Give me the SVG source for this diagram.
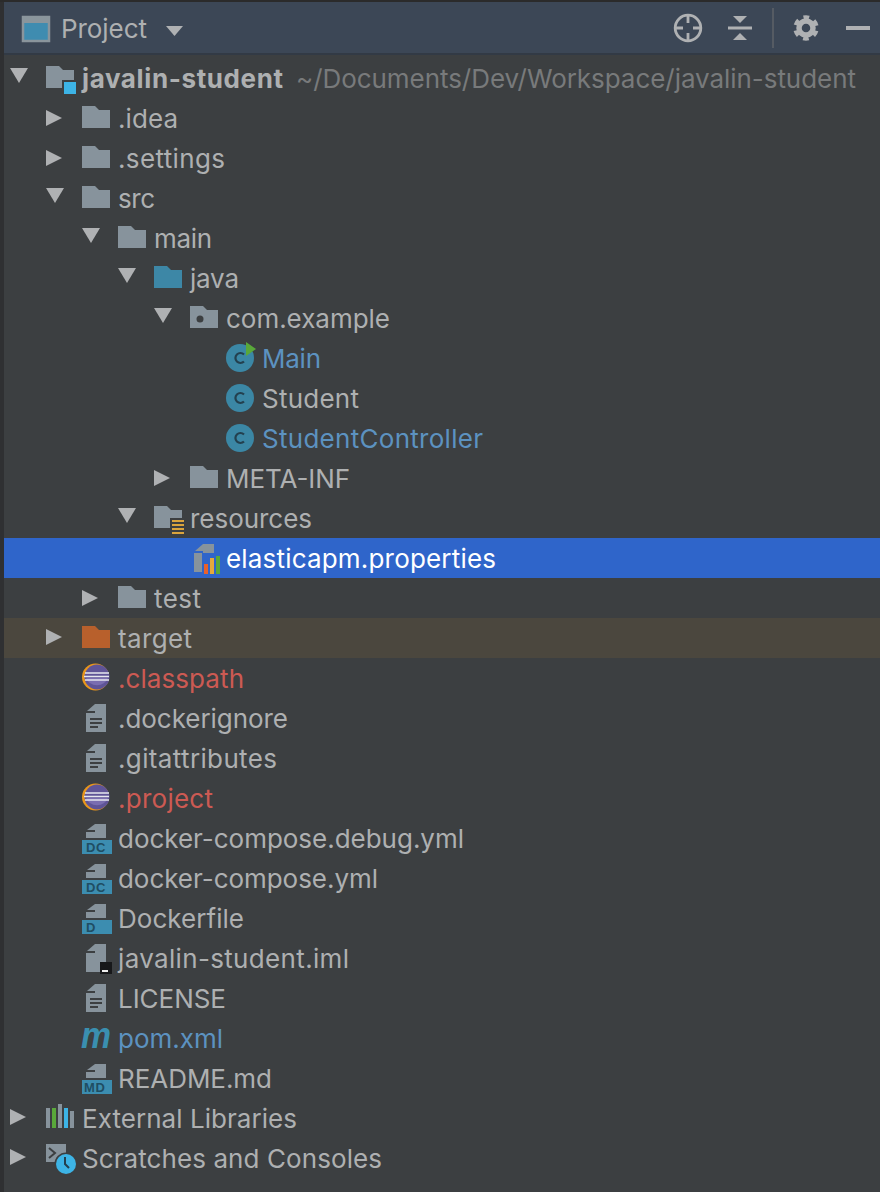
<svg xmlns="http://www.w3.org/2000/svg" xmlns:xlink="http://www.w3.org/1999/xlink" width="880" height="1192" viewBox="0 0 880 1192">
<style>
text{font-family:Inter,"Noto Sans","Liberation Sans",sans-serif;font-size:26px;fill:#aeb0b1}
.blue{fill:#5c92c0}.red{fill:#cc5a53}.white{fill:#fff}.path{fill:#787a7b}.bold{font-weight:700}
.doc{fill:#87939c}.tri{fill:#afb1b3}.band{fill:#3c8db0}
text.tag{font-family:"Liberation Sans",sans-serif;font-size:13px;font-weight:700;fill:#1f4d63;letter-spacing:.6px}
.line{stroke:#3c3f41;stroke-width:2}
.cc{fill:none;stroke:#23404f;stroke-width:2.2}
</style>
<defs>
<path id="folder" d="M0-13h13l4 4h11v18H0z"/>
<polygon id="tr" points="0,-8 16,0 0,8" class="tri"/>
<polygon id="td" points="0,-11 18,-11 9,4" class="tri"/>
<path id="page" class="doc" d="M0-6h9v-9h11v28H0z"/>
<polygon id="fold" class="doc" points="1,-8 9,-15 9,-8"/>
<g id="filedoc"><use xlink:href="#page"/><use xlink:href="#fold"/><path class="line" d="M4 0h12M4 4h12M4 8h8"/></g>
<g id="cls"><circle r="14" fill="#3b87a5"/><path class="cc" d="M4-3.5A5 5 0 1 0 4 3.5"/></g>
<g id="ecl"><circle r="13.5" cx="-.5" fill="#e8961c"/><circle r="12.5" cx="1" fill="#5f5497"/><path d="M-10 1a12 12 0 0 0 22 0z" fill="#7a6db0"/><path d="M-11-4h24M-12-.5h25M-11 3h24" stroke="#e6e6ee" stroke-width="1.6"/></g>
<g id="dockdoc"><path class="doc" d="M4-1V-7H13V-15H24V-1z"/><polygon class="doc" points="5,-9 13,-15 13,-9"/><rect x="0" y="1" width="30" height="14" class="band"/></g>
</defs>

<rect width="880" height="1192" fill="#3c3f41"/>
<rect width="4" height="1192" fill="#2f3032"/>
<rect width="880" height="2" fill="#2b2b2b"/>
<rect x="4" y="2" width="876" height="52" fill="#3c4756"/>
<rect x="4" y="53" width="876" height="2" fill="#323a45"/>
<rect x="4" y="538" width="876" height="40" fill="#2f65ca"/>
<rect x="4" y="618" width="876" height="40" fill="#4b473e"/>

<g id="header">
<rect x="23" y="17" width="26" height="24" fill="#3f8cb0" stroke="#8a959c" stroke-width="2.5"/>
<rect x="23" y="17" width="26" height="6" fill="#8a959c"/>
<text x="61" y="38" textLength="86">Project</text>
<polygon points="166,26 183,26 174.500,36" class="tri"/>
<g id="btn-locate" fill="none" stroke="#afb1b3" stroke-width="2.800"><circle cx="688" cy="28" r="12.800"/><path d="M688 15v8M688 33v8M675 28h8M693 28h8"/></g>
<g id="btn-collapse" fill="#afb1b3"><rect x="728" y="26.500" width="24" height="3"/><polygon points="733,16 747,16 740,23"/><polygon points="733,40 747,40 740,33"/></g>
<rect x="772" y="8" width="2" height="40" fill="#555b63"/>
<g id="btn-gear" fill="none" stroke="#afb1b3"><circle cx="806" cy="28" r="7" stroke-width="5.500"/><circle cx="806" cy="28" r="10.500" stroke-width="4.500" stroke-dasharray="5.500 5.500" transform="rotate(15 806 28)"/></g>
<rect x="846" y="26" width="24" height="4" fill="#afb1b3"/>
</g>

<g id="connectors"></g>

<g id="node-root"><use xlink:href="#td" x="10" y="79"/><path class="doc" d="M46 66h13l4 4h11v18H46z"/><rect x="62" y="80" width="14" height="14" fill="#3c3f41"/><rect x="64" y="82" width="12" height="12" fill="#3db4e6"/><text x="82" y="88" class="bold" textLength="201">javalin-student</text><text x="296" y="88" class="path" textLength="560">~/Documents/Dev/Workspace/javalin-student</text></g>
<g id="node-idea"><use xlink:href="#tr" x="46" y="118"/><use xlink:href="#folder" x="82" y="119" fill="#87939c"/><text x="118" y="128" textLength="60">.idea</text></g>
<g id="node-settings"><use xlink:href="#tr" x="46" y="158"/><use xlink:href="#folder" x="82" y="159" fill="#87939c"/><text x="118" y="168" textLength="107">.settings</text></g>
<g id="node-src"><use xlink:href="#td" x="46" y="199"/><use xlink:href="#folder" x="82" y="199" fill="#87939c"/><text x="118" y="208" textLength="37">src</text></g>
<g id="node-main"><use xlink:href="#td" x="82" y="239"/><use xlink:href="#folder" x="118" y="239" fill="#87939c"/><text x="154" y="248" textLength="58">main</text></g>
<g id="node-java"><use xlink:href="#td" x="118" y="279"/><use xlink:href="#folder" x="154" y="279" fill="#3d87a6"/><text x="190" y="288" textLength="49">java</text></g>
<g id="node-com-example"><use xlink:href="#td" x="154" y="319"/><use xlink:href="#folder" x="190" y="319" fill="#87939c"/><circle cx="200" cy="319" r="3.500" fill="#3c3f41"/><text x="226" y="328" textLength="164">com.example</text></g>
<g id="node-main-class"><use xlink:href="#cls" x="240" y="358"/><polygon points="246,342 256,349 246,356" fill="#59a83a"/><text x="262" y="368" class="blue" textLength="59">Main</text></g>
<g id="node-student"><use xlink:href="#cls" x="240" y="398"/><text x="262" y="408" textLength="97">Student</text></g>
<g id="node-studentcontroller"><use xlink:href="#cls" x="240" y="438"/><text x="262" y="448" class="blue" textLength="221">StudentController</text></g>
<g id="node-meta-inf"><use xlink:href="#tr" x="154" y="478"/><use xlink:href="#folder" x="190" y="479" fill="#87939c"/><text x="226" y="488" textLength="124">META-INF</text></g>
<g id="node-resources"><use xlink:href="#td" x="118" y="519"/><use xlink:href="#folder" x="154" y="519" fill="#87939c"/><rect x="170" y="518" width="16" height="18" fill="#3c3f41"/><path d="M172 521h12M172 525h12M172 529h12M172 533h12" stroke="#dba43c" stroke-width="2"/><text x="190" y="528" textLength="122">resources</text></g>
<g id="node-elasticapm"><use xlink:href="#page" x="194" y="559"/><use xlink:href="#fold" x="194" y="559"/><rect x="202" y="553" width="20" height="22" fill="#2f65ca"/><rect x="204" y="564" width="4" height="10" fill="#e8612c"/><rect x="210" y="558" width="4" height="16" fill="#e5a93c"/><rect x="216" y="556" width="4" height="18" fill="#59a83a"/><text x="226" y="568" class="white" textLength="270">elasticapm.properties</text></g>
<g id="node-test"><use xlink:href="#tr" x="82" y="598"/><use xlink:href="#folder" x="118" y="599" fill="#87939c"/><text x="154" y="608" textLength="47">test</text></g>
<g id="node-target"><use xlink:href="#tr" x="46" y="637"/><use xlink:href="#folder" x="82" y="639" fill="#b8602c"/><text x="118" y="648" textLength="74">target</text></g>
<g id="node-classpath"><use xlink:href="#ecl" x="96" y="677"/><text x="118" y="688" class="red" textLength="126">.classpath</text></g>
<g id="node-dockerignore"><use xlink:href="#filedoc" x="86" y="719"/><text x="118" y="728" textLength="170">.dockerignore</text></g>
<g id="node-gitattributes"><use xlink:href="#filedoc" x="86" y="759"/><text x="118" y="768" textLength="159">.gitattributes</text></g>
<g id="node-project"><use xlink:href="#ecl" x="96" y="797"/><text x="118" y="808" class="red" textLength="95">.project</text></g>
<g id="node-compose-debug"><use xlink:href="#dockdoc" x="82" y="839"/><text x="86" y="852" class="tag">DC</text><text x="118" y="848" textLength="346">docker-compose.debug.yml</text></g>
<g id="node-compose"><use xlink:href="#dockdoc" x="82" y="879"/><text x="86" y="892" class="tag">DC</text><text x="118" y="888" textLength="260">docker-compose.yml</text></g>
<g id="node-dockerfile"><use xlink:href="#dockdoc" x="82" y="919"/><text x="86" y="932" class="tag">D</text><text x="118" y="928" textLength="126">Dockerfile</text></g>
<g id="node-iml"><use xlink:href="#page" x="86" y="959"/><use xlink:href="#fold" x="86" y="959"/><rect x="100" y="962" width="12" height="12" fill="#17181a"/><rect x="102" y="970" width="6" height="2" fill="#eee"/><text x="118" y="968" textLength="231">javalin-student.iml</text></g>
<g id="node-license"><use xlink:href="#filedoc" x="86" y="999"/><text x="118" y="1008" textLength="108">LICENSE</text></g>
<g id="node-pom"><text x="81" y="1048" textLength="30" lengthAdjust="spacingAndGlyphs" style="font-family:'Liberation Sans',sans-serif;font-size:36px;font-weight:700;font-style:italic;fill:#3a8fb0">m</text><text x="118" y="1048" class="blue" textLength="105">pom.xml</text></g>
<g id="node-readme"><use xlink:href="#dockdoc" x="82" y="1079"/><text x="84" y="1092" class="tag">MD</text><text x="118" y="1088" textLength="154">README.md</text></g>
<g id="node-external"><use xlink:href="#tr" x="10" y="1117"/><rect x="46" y="1108" width="4" height="20" fill="#87939c"/><rect x="52" y="1108" width="4" height="20" fill="#59a83a"/><rect x="58" y="1104" width="4" height="24" fill="#87939c"/><rect x="64" y="1108" width="4" height="20" fill="#3db4e6"/><rect x="70" y="1111" width="4" height="17" fill="#87939c"/><text x="82" y="1128" textLength="215">External Libraries</text></g>
<g id="node-scratches"><use xlink:href="#tr" x="10" y="1157"/><rect x="46" y="1144" width="20" height="18" fill="#87939c"/><path d="M49 1148l6 5-6 5" fill="none" stroke="#3c3f41" stroke-width="2"/><circle cx="66" cy="1164" r="11.500" fill="#3c3f41"/><circle cx="66" cy="1164" r="10" fill="#3db4e6"/><path d="M65 1157v7l4 4" fill="none" stroke="#23404f" stroke-width="2"/><text x="82" y="1168" textLength="300">Scratches and Consoles</text></g>
</svg>
